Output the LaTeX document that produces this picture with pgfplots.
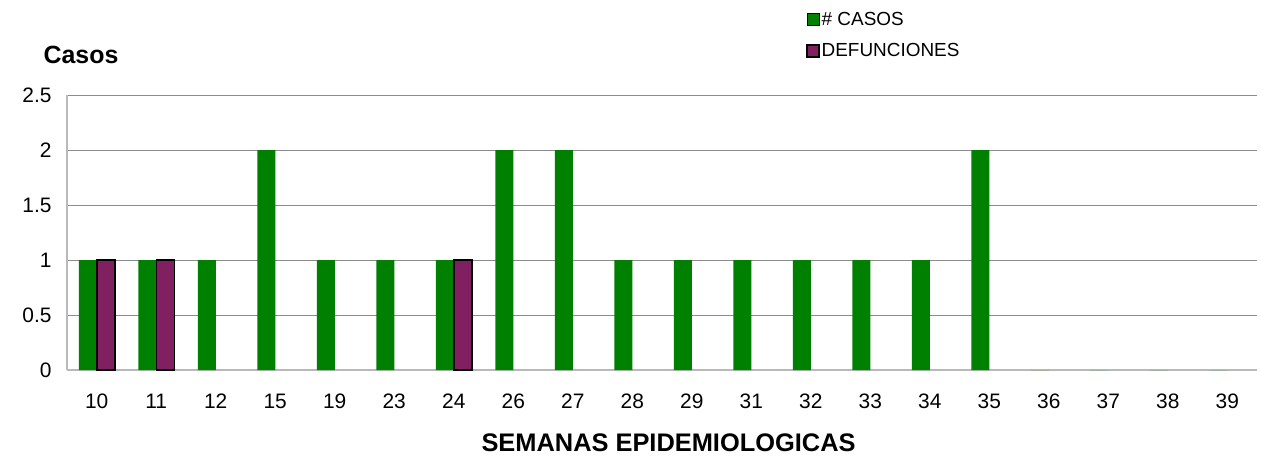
\documentclass[border=0pt]{standalone}
\usepackage{fontspec}
\setmainfont{Liberation Sans}
\usepackage{pgfplots}
\pgfplotsset{compat=1.18}
\definecolor{casosgreen}{RGB}{0,128,0}
\definecolor{defpurple}{RGB}{128,32,96}
\begin{document}
\begin{tikzpicture}
\path[use as bounding box] (0,0) rectangle (1261bp,459bp);
\begin{axis}[
  at={(67bp,89bp)}, anchor=south west,
  scale only axis, width=1190bp, height=275bp,
  ybar, bar width=18bp,
  xmin=-0.5, xmax=19.5, ymin=0, ymax=2.5,
  xtick={0,...,19},
  xticklabels={10,11,12,15,19,23,24,26,27,28,29,31,32,33,34,35,36,37,38,39},
  ytick={0,0.5,1,1.5,2,2.5},
  yticklabels={0,0.5,1,1.5,2,2.5},
  /pgf/number format/assume math mode=true,
  major tick length=0pt,
  axis x line=bottom, axis y line=left,
  axis line style={-, draw=gray!55, line width=1.2bp},
  ymajorgrids, grid style={draw=gray!90, line width=0.9bp},
  tick label style={font=\fontsize{21}{21}\selectfont},
  xticklabel style={anchor=base, yshift=-38bp},
  yticklabel style={xshift=-12bp},
  xlabel={\textbf{SEMANAS EPIDEMIOLOGICAS}},
  xlabel style={font=\fontsize{25.5}{25.5}\selectfont, at={(rel axis cs:0.5055,-0.265)}, anchor=center},
  ylabel={\textbf{Casos}},
  ylabel style={font=\fontsize{25}{25}\selectfont, rotate=-90, at={(rel axis cs:0.0118,1.145)}, anchor=center},
  legend style={draw=none, fill=none, at={(rel axis cs:0.621,1.31)}, anchor=north west,
    font=\fontsize{19}{19}\selectfont, row sep=13bp, inner sep=0pt},
  legend cell align=left,
  legend image code/.code={\draw[#1] (0bp,-6bp) rectangle (12bp,6bp);},
  clip=false,
]
\addplot[fill=casosgreen, draw=none, bar shift=-9bp] coordinates {
(0,1) (1,1) (2,1) (3,2) (4,1) (5,1) (6,1) (7,2) (8,2) (9,1)
(10,1) (11,1) (12,1) (13,1) (14,1) (15,2) (16,0) (17,0) (18,0) (19,0)};
\addlegendentry{\# CASOS}
\addplot[fill=defpurple, draw=black, line width=1.5bp, bar shift=9bp] coordinates {
(0,1) (1,1) (6,1)};
\addlegendentry{DEFUNCIONES}
\end{axis}
\end{tikzpicture}
\end{document}
